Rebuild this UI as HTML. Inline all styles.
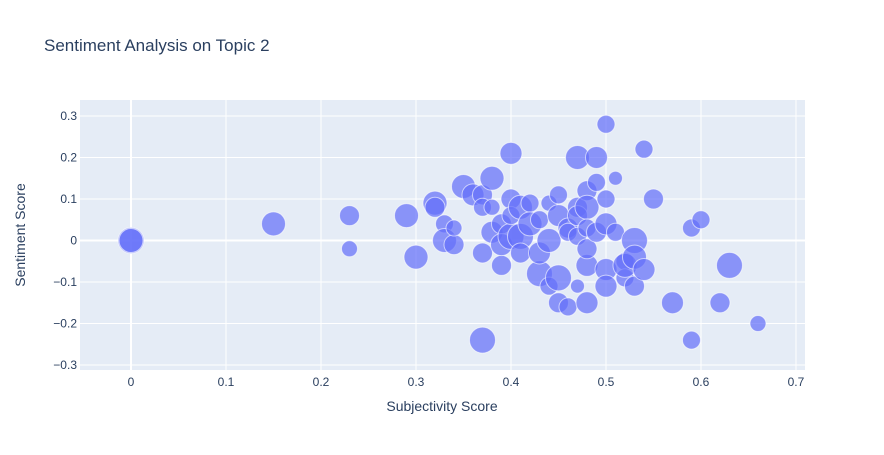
<!DOCTYPE html>
<html><head><meta charset="utf-8"><style>
body{margin:0;background:#fff;font-family:"Liberation Sans",Arial,sans-serif}
svg text{font-family:"Liberation Sans",Arial,sans-serif}
</style></head><body>
<svg id="c" width="884" height="450" xmlns="http://www.w3.org/2000/svg">
<rect width="884" height="450" fill="#fff"/>
<text x="44" y="51" font-size="17" fill="#2a3f5f">Sentiment Analysis on Topic 2</text>
<rect x="80" y="100" width="725" height="270" fill="#e5ecf6"/>
<g id="grid"></g>
<g id="marks"></g>
<g id="labels"></g>
<text x="442" y="411" font-size="14" fill="#2a3f5f" text-anchor="middle">Subjectivity Score</text>
<text transform="translate(25,235) rotate(-90)" font-size="14" fill="#2a3f5f" text-anchor="middle">Sentiment Score</text>
</svg>
<script>
const xTicks=[0,0.1,0.2,0.3,0.4,0.5,0.6,0.7];
const xTickLabels=["0","0.1","0.2","0.3","0.4","0.5","0.6","0.7"];
const yTicks=[-0.3,-0.2,-0.1,0,0.1,0.2,0.3];
const yTickLabels=["−0.3","−0.2","−0.1","0","0.1","0.2","0.3"];
const subjectivity=[0,0,0.15,0.23,0.23,0.29,0.30,0.32,0.32,0.33,0.33,0.34,0.34,0.35,0.36,0.37,0.37,0.37,0.37,0.38,0.38,0.38,0.39,0.39,0.39,0.40,0.40,0.40,0.40,0.41,0.41,0.41,0.42,0.42,0.43,0.43,0.43,0.44,0.44,0.44,0.45,0.45,0.45,0.45,0.46,0.46,0.46,0.47,0.47,0.47,0.47,0.47,0.48,0.48,0.48,0.48,0.48,0.48,0.49,0.49,0.49,0.50,0.50,0.50,0.50,0.50,0.51,0.51,0.52,0.52,0.52,0.53,0.53,0.53,0.54,0.54,0.55,0.57,0.59,0.59,0.60,0.62,0.63,0.66];
const sentiment=[0,0,0.04,0.06,-0.02,0.06,-0.04,0.09,0.08,0.04,0.0,-0.01,0.03,0.13,0.11,0.11,0.08,-0.03,-0.24,0.15,0.02,0.08,0.04,-0.06,-0.01,0.21,0.10,0.01,0.06,0.08,0.01,-0.03,0.09,0.04,0.05,-0.08,-0.03,0.00,-0.11,0.09,0.06,0.11,-0.09,-0.15,-0.16,0.03,0.02,0.20,0.08,0.06,0.01,-0.11,0.12,0.08,0.03,-0.06,-0.15,-0.02,0.20,0.14,0.02,0.28,0.10,0.04,-0.07,-0.11,0.15,0.02,-0.05,-0.09,-0.06,0.00,-0.04,-0.11,0.22,-0.07,0.10,-0.15,0.03,-0.24,0.05,-0.15,-0.06,-0.20];
const bubbleSize=[13,12,12,10,8,12,12,12,10,9,12,10,8,12,11,10,9,10,13,12,11,8,10,10,11,11,10,13,9,12,13,10,9,12,9,13,11,12,9,8,11,9,13,10,9,10,9,12,10,10,9,7,10,12,9,11,11,10,11,9,10,9,9,11,11,11,7,9,9,9,12,13,12,10,9,11,10,11,9,9,9,10,13,8];
const X0=80,X1=805,Y0=100,Y1=370,xmin=-0.0537,xmax=0.7095,ymin=-0.312,ymax=0.3385;
const sx=v=>X0+(v-xmin)/(xmax-xmin)*(X1-X0);
const sy=v=>Y1-(v-ymin)/(ymax-ymin)*(Y1-Y0);
const NS="http://www.w3.org/2000/svg";
const grid=document.getElementById('grid'),marks=document.getElementById('marks'),labels=document.getElementById('labels');
xTicks.forEach((t,i)=>{
  const l=document.createElementNS(NS,'line');
  l.setAttribute('x1',sx(t));l.setAttribute('x2',sx(t));l.setAttribute('y1',Y0);l.setAttribute('y2',Y1);
  l.setAttribute('stroke','#fff');l.setAttribute('stroke-width',t===0?2:1);
  
  
  grid.appendChild(l);
  const tx=document.createElementNS(NS,'text');
  tx.setAttribute('x',sx(t));tx.setAttribute('y',386);tx.setAttribute('font-size','12');tx.setAttribute('fill','#2a3f5f');tx.setAttribute('text-anchor','middle');
  tx.textContent=xTickLabels[i];
  
  
  labels.appendChild(tx);
});
yTicks.forEach((t,i)=>{
  const l=document.createElementNS(NS,'line');
  l.setAttribute('x1',X0);l.setAttribute('x2',X1);l.setAttribute('y1',sy(t));l.setAttribute('y2',sy(t));
  l.setAttribute('stroke','#fff');l.setAttribute('stroke-width',Math.abs(t)<1e-9?2:1);
  
  
  grid.appendChild(l);
  const tx=document.createElementNS(NS,'text');
  tx.setAttribute('x',77);tx.setAttribute('y',sy(t)+4);tx.setAttribute('font-size','12');tx.setAttribute('fill','#2a3f5f');tx.setAttribute('text-anchor','end');
  tx.textContent=yTickLabels[i];
  
  
  labels.appendChild(tx);
});
subjectivity.forEach((v,i)=>{
  const c=document.createElementNS(NS,'circle');
  c.setAttribute('cx',sx(v));c.setAttribute('cy',sy(sentiment[i]));c.setAttribute('r',bubbleSize[i]);
  c.setAttribute('fill','rgb(99,110,250)');c.setAttribute('fill-opacity','0.7');
  c.setAttribute('stroke','rgba(255,255,255,0.6)');c.setAttribute('stroke-width','1');
  
  
  marks.appendChild(c);
});
</script>
</body></html>
